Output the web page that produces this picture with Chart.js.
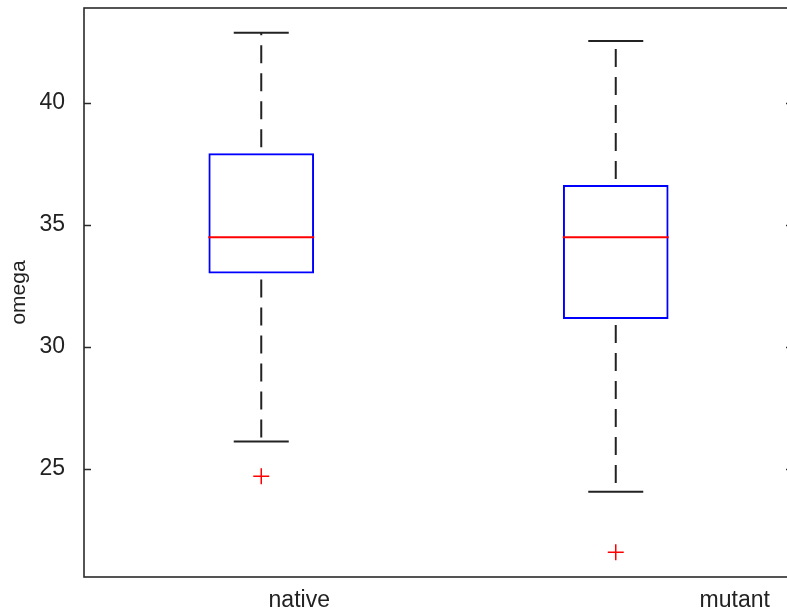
<!DOCTYPE html>
<html>
<head>
<meta charset="utf-8">
<script src="https://cdn.jsdelivr.net/npm/chart.js@4.4.1/dist/chart.umd.min.js"></script>
<style>
    html, body { margin:0; padding:0; background:#fff; overflow:hidden; }
    #wrap { width:800px; height:613px; }
</style>
</head>
<body>
<div id="wrap"><canvas id="box-chart" width="800" height="613"></canvas></div>
<script>
// groups and their box statistics
const groups = ['native', 'mutant'];
const q1 = [33.01, 31.14];
const medians = [34.49, 34.49];
const q3 = [37.93, 36.63];
const whiskerLow = [26.13, 24.07];
const whiskerHigh = [42.87, 42.53];
const outliers = [[24.71], [21.59]];
const yTicks = [25, 30, 35, 40];
const yMin = 20.58;
const yMax = 43.88;

// style-only constants
const FONT = '"Liberation Sans", Arial, sans-serif';
const INK = '#222';
const labelShift = [38, 119];   // x labels sit right of the box centres in the original

// whiskers run from the box edge out to the cap
const whiskerSets = [];
groups.forEach((g, i) => {
    whiskerSets.push({ from: q3[i], to: whiskerHigh[i], g });
    whiskerSets.push({ from: q1[i], to: whiskerLow[i], g });
});

// frame, inward ticks and shifted category labels
const framePlugin = {
    id: 'frame',
    afterDraw(chart) {
        const { ctx, chartArea: a, scales } = chart;
        ctx.save();
        ctx.strokeStyle = '#2a2a2a';
        ctx.lineWidth = 1.6;
        ctx.strokeRect(a.left, a.top, a.right - a.left, a.bottom - a.top);
        ctx.lineWidth = 1.4;
        yTicks.forEach(t => {
            const y = Math.round(scales.y.getPixelForValue(t)) + 0.5;
            ctx.beginPath();
            ctx.moveTo(a.left, y); ctx.lineTo(a.left + 7, y);
            ctx.moveTo(a.right, y); ctx.lineTo(a.right - 7, y);
            ctx.stroke();
        });
        ctx.fillStyle = INK;
        ctx.font = '23px ' + FONT;
        ctx.textAlign = 'center';
        ctx.textBaseline = 'alphabetic';
        groups.forEach((g, i) => {
            ctx.fillText(g, scales.x.getPixelForValue(i) + labelShift[i], a.bottom + 30);
        });
        ctx.restore();
    }
};

new Chart(document.getElementById('box-chart'), {
    type: 'bar',
    data: {
        labels: groups,
        datasets: [
            {
                type: 'scatter',
                data: groups.map((g, i) => ({ x: g, y: medians[i] })),
                pointStyle: 'line',
                pointRadius: 53,
                borderColor: '#ff0000',
                borderWidth: 2
            },
            {
                type: 'scatter',
                data: groups.flatMap((g, i) => [{ x: g, y: whiskerHigh[i] }, { x: g, y: whiskerLow[i] }]),
                pointStyle: 'line',
                pointRadius: 27.5,
                borderColor: INK,
                borderWidth: 2
            },
            {
                type: 'scatter',
                data: groups.flatMap((g, i) => outliers[i].map(v => ({ x: g, y: v }))),
                pointStyle: 'cross',
                pointRadius: 8,
                borderColor: '#ff0000',
                borderWidth: 1.5
            },
            ...whiskerSets.map(w => ({
                type: 'line',
                data: [{ x: w.g, y: w.from }, { x: w.g, y: w.to }],
                borderColor: INK,
                borderWidth: 2,
                borderDash: [18, 10],
                borderDashOffset: 22,
                pointRadius: 0,
                fill: false,
                tension: 0
            })),
            {
                type: 'bar',
                data: groups.map((g, i) => [q1[i], q3[i]]),
                backgroundColor: 'rgba(0,0,0,0)',
                borderColor: '#0000ff',
                borderWidth: 2,
                borderSkipped: false,
                categoryPercentage: 1,
                barPercentage: 0.298
            }
        ]
    },
    options: {
        responsive: false,
        animation: false,
        events: [],
        layout: { autoPadding: false, padding: { top: 8, right: 7, left: 0, bottom: 0 } },
        plugins: { legend: { display: false }, tooltip: { enabled: false } },
        scales: {
            x: {
                type: 'category',
                offset: true,
                grid: { display: false },
                border: { display: false },
                ticks: { display: false },
                afterFit(scale) {
                    scale.height = 36;
                    scale.paddingLeft = 0; scale.paddingRight = 0;
                }
            },
            y: {
                min: yMin,
                max: yMax,
                grid: { display: false },
                border: { display: false },
                afterBuildTicks(scale) { scale.ticks = yTicks.map(v => ({ value: v })); },
                ticks: {
                    padding: 11,
                    color: INK,
                    font: { family: FONT, size: 23 }
                },
                title: {
                    display: true,
                    text: 'omega',
                    color: INK,
                    font: { family: FONT, size: 21 },
                    padding: { top: 7, bottom: 0 }
                },
                afterFit(scale) {
                    scale.width = 84;
                    scale.paddingTop = 0; scale.paddingBottom = 0;
                }
            }
        }
    },
    plugins: [framePlugin]
});
</script>
</body>
</html>
